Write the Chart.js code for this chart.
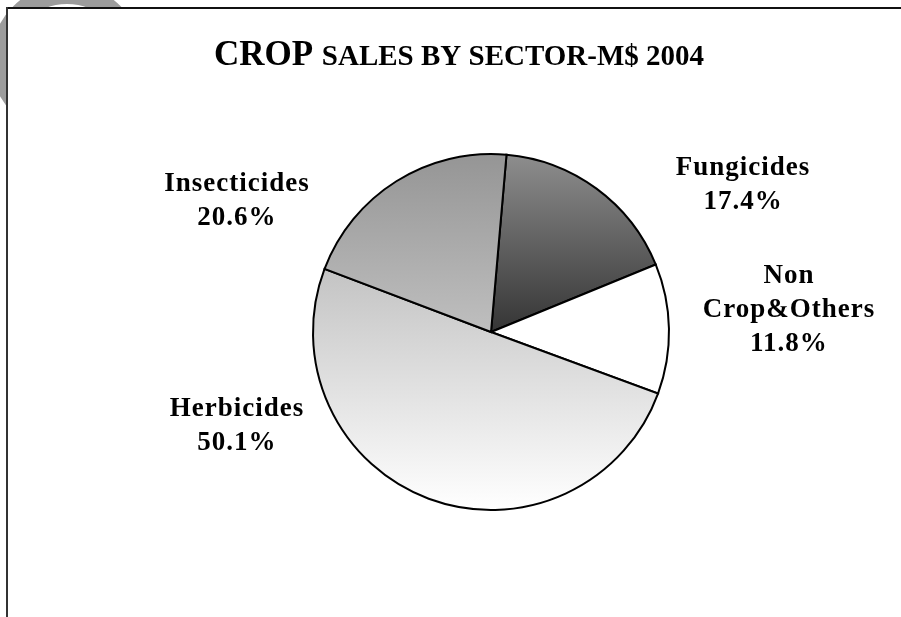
<!DOCTYPE html>
<html>
<head>
<meta charset="utf-8">
<script src="https://cdn.jsdelivr.net/npm/chart.js@4"></script>
<style>
  html, body { margin: 0; padding: 0; background: #fff; }
  #wrap { position: relative; width: 901px; height: 617px; }
</style>
</head>
<body>
<div id="wrap"><canvas id="cropChart"></canvas></div>
<script>
// data
const sectors = ["Fungicides", "Non\nCrop&Others", "Herbicides", "Insecticides"];
const shares = [17.4, 11.8, 50.1, 20.6];
const titleBig = "CROP";
const titleRest = "SALES BY SECTOR-M$ 2004";

const PIE_R = 178;
const FONT = '"Liberation Serif", "Times New Roman", serif';

// vertical grey gradients, stops given over the whole pie height (0 = top, 1 = bottom)
const sliceShades = [
  [[0, "#8e8e8e"], [0.5, "#353535"]],
  [[0, "#ffffff"], [1, "#ffffff"]],
  [[0.33, "#c4c4c4"], [1, "#ffffff"]],
  [[0, "#959595"], [0.5, "#bfbfbf"]]
];

// where each label block sits, in pie radii from the centre
const labelSpots = [
  { dx: 1.416, dy: -0.828 },
  { dx: 1.674, dy: -0.121 },
  { dx: -1.427, dy: 0.530 },
  { dx: -1.427, dy: -0.733 }
];

function sliceFill(c) {
  const chart = c.chart;
  const area = chart.chartArea;
  if (!area) return "#ccc";
  const cy = (area.top + area.bottom) / 2;
  const g = chart.ctx.createLinearGradient(0, cy - PIE_R, 0, cy + PIE_R);
  sliceShades[c.dataIndex].forEach(s => g.addColorStop(s[0], s[1]));
  return g;
}

/* -------------------------------
   FRAME + TITLE + LABELS
--------------------------------*/
const framePlugin = {
  id: "frame",
  beforeDraw(chart) {
    const ctx = chart.ctx;
    ctx.save();
    // grey ring peeking out at the top left corner
    ctx.strokeStyle = "#9c9c9c";
    ctx.lineWidth = 20;
    ctx.beginPath();
    ctx.arc(67, 60, 66, 0, Math.PI * 2);
    ctx.stroke();
    ctx.fillStyle = "#fff";
    ctx.fillRect(8, 9, chart.width, chart.height);
    ctx.fillStyle = "#111";
    ctx.fillRect(7, 7, chart.width, 2);
    ctx.fillStyle = "#333";
    ctx.fillRect(6, 7, 2, chart.height);

    // title, two sizes
    ctx.fillStyle = "#000";
    ctx.textBaseline = "alphabetic";
    ctx.font = "bold 35px " + FONT;
    const w1 = ctx.measureText(titleBig + " ").width;
    ctx.font = "bold 29px " + FONT;
    const w2 = ctx.measureText(titleRest).width;
    const x0 = 459 - (w1 + w2) / 2;
    ctx.font = "bold 35px " + FONT;
    ctx.fillText(titleBig, x0, 65);
    ctx.font = "bold 29px " + FONT;
    ctx.fillText(titleRest, x0 + w1, 65);
    ctx.restore();
  },
  afterDatasetsDraw(chart) {
    const ctx = chart.ctx;
    const arcs = chart.getDatasetMeta(0).data;
    ctx.save();
    ctx.fillStyle = "#000";
    ctx.font = "bold 27px " + FONT;
    ctx.textAlign = "center";
    ctx.textBaseline = "middle";
    if ("letterSpacing" in ctx) ctx.letterSpacing = "1px";
    const lineH = 34;
    arcs.forEach((arc, i) => {
      const p = arc.getProps(["x", "y", "outerRadius"], true);
      const lines = sectors[i].split("\n");
      lines.push(shares[i].toFixed(1) + "%");
      const cx = p.x + labelSpots[i].dx * p.outerRadius;
      const cy = p.y + labelSpots[i].dy * p.outerRadius;
      const top = cy - (lines.length - 1) * lineH / 2;
      lines.forEach((t, k) => ctx.fillText(t, cx, top + k * lineH));
    });
    ctx.restore();
  }
};

new Chart(document.getElementById("cropChart"), {
  type: "pie",
  data: {
    labels: sectors,
    datasets: [{
      data: shares,
      backgroundColor: sliceFill,
      borderColor: "#000",
      borderWidth: 2,
      borderJoinStyle: "miter"
    }]
  },
  options: {
    responsive: true,
    maintainAspectRatio: false,
    animation: false,
    rotation: 5,
    radius: PIE_R,
    layout: { padding: { left: 100, right: 19, top: 100, bottom: 53 } },
    plugins: {
      legend: { display: false },
      title: { display: false },
      tooltip: { enabled: false }
    }
  },
  plugins: [framePlugin]
});
</script>
</body>
</html>
